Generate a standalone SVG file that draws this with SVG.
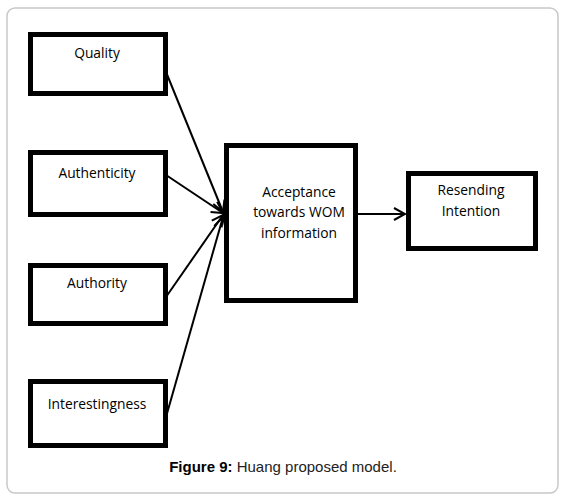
<svg xmlns="http://www.w3.org/2000/svg" width="565" height="499" viewBox="0 0 565 499">
<defs>
<style>
.box{fill:#fff;stroke:#000;stroke-width:5}
.lbl{font-family:"Open Sans",Lato,"Liberation Sans",sans-serif;font-size:13.8px;fill:#000;text-anchor:middle}
.edge{stroke:#000;stroke-width:2;fill:none}
.cap{font-family:"Liberation Sans",Arial,sans-serif;font-size:15px;fill:#222;text-anchor:middle}
</style>
<marker id="ah" markerWidth="14" markerHeight="14" refX="12" refY="7" orient="auto" markerUnits="userSpaceOnUse">
<path d="M1,1 L12,7 L1,13" fill="none" stroke="#000" stroke-width="2"/>
</marker>
</defs>
<rect x="7" y="8" width="551" height="485" rx="8" fill="#fff" stroke="#c8c8c8" stroke-width="1.5"/>
<g id="connectors">
<line class="edge" x1="166" y1="72" x2="223" y2="212" marker-end="url(#ah)"/>
<line class="edge" x1="166" y1="175" x2="223" y2="213" marker-end="url(#ah)"/>
<line class="edge" x1="166" y1="297" x2="223" y2="215" marker-end="url(#ah)"/>
<line class="edge" x1="166" y1="417" x2="223" y2="217" marker-end="url(#ah)"/>
<line class="edge" x1="357" y1="214" x2="405" y2="214" marker-end="url(#ah)"/>
</g>
<g id="quality"><rect class="box" x="30.5" y="34.5" width="135" height="59"/><text class="lbl" x="97" y="58">Quality</text></g>
<g id="authenticity"><rect class="box" x="30.5" y="152.5" width="135" height="62"/><text class="lbl" x="97" y="178">Authenticity</text></g>
<g id="authority"><rect class="box" x="30.5" y="265.5" width="135" height="58"/><text class="lbl" x="97" y="288">Authority</text></g>
<g id="interestingness"><rect class="box" x="30.5" y="381.5" width="135" height="64"/><text class="lbl" x="97" y="409">Interestingness</text></g>
<g id="acceptance"><rect class="box" x="226.5" y="145.5" width="129" height="155"/><text class="lbl" x="299" y="197">Acceptance</text><text class="lbl" x="299" y="217">towards WOM</text><text class="lbl" x="299" y="238">information</text></g>
<g id="resending"><rect class="box" x="408.5" y="173.5" width="127" height="75"/><text class="lbl" x="471" y="195">Resending</text><text class="lbl" x="471" y="216">Intention</text></g>
<text class="cap" x="283" y="472"><tspan font-weight="bold" fill="#000">Figure 9:</tspan> Huang proposed model.</text>
</svg>
